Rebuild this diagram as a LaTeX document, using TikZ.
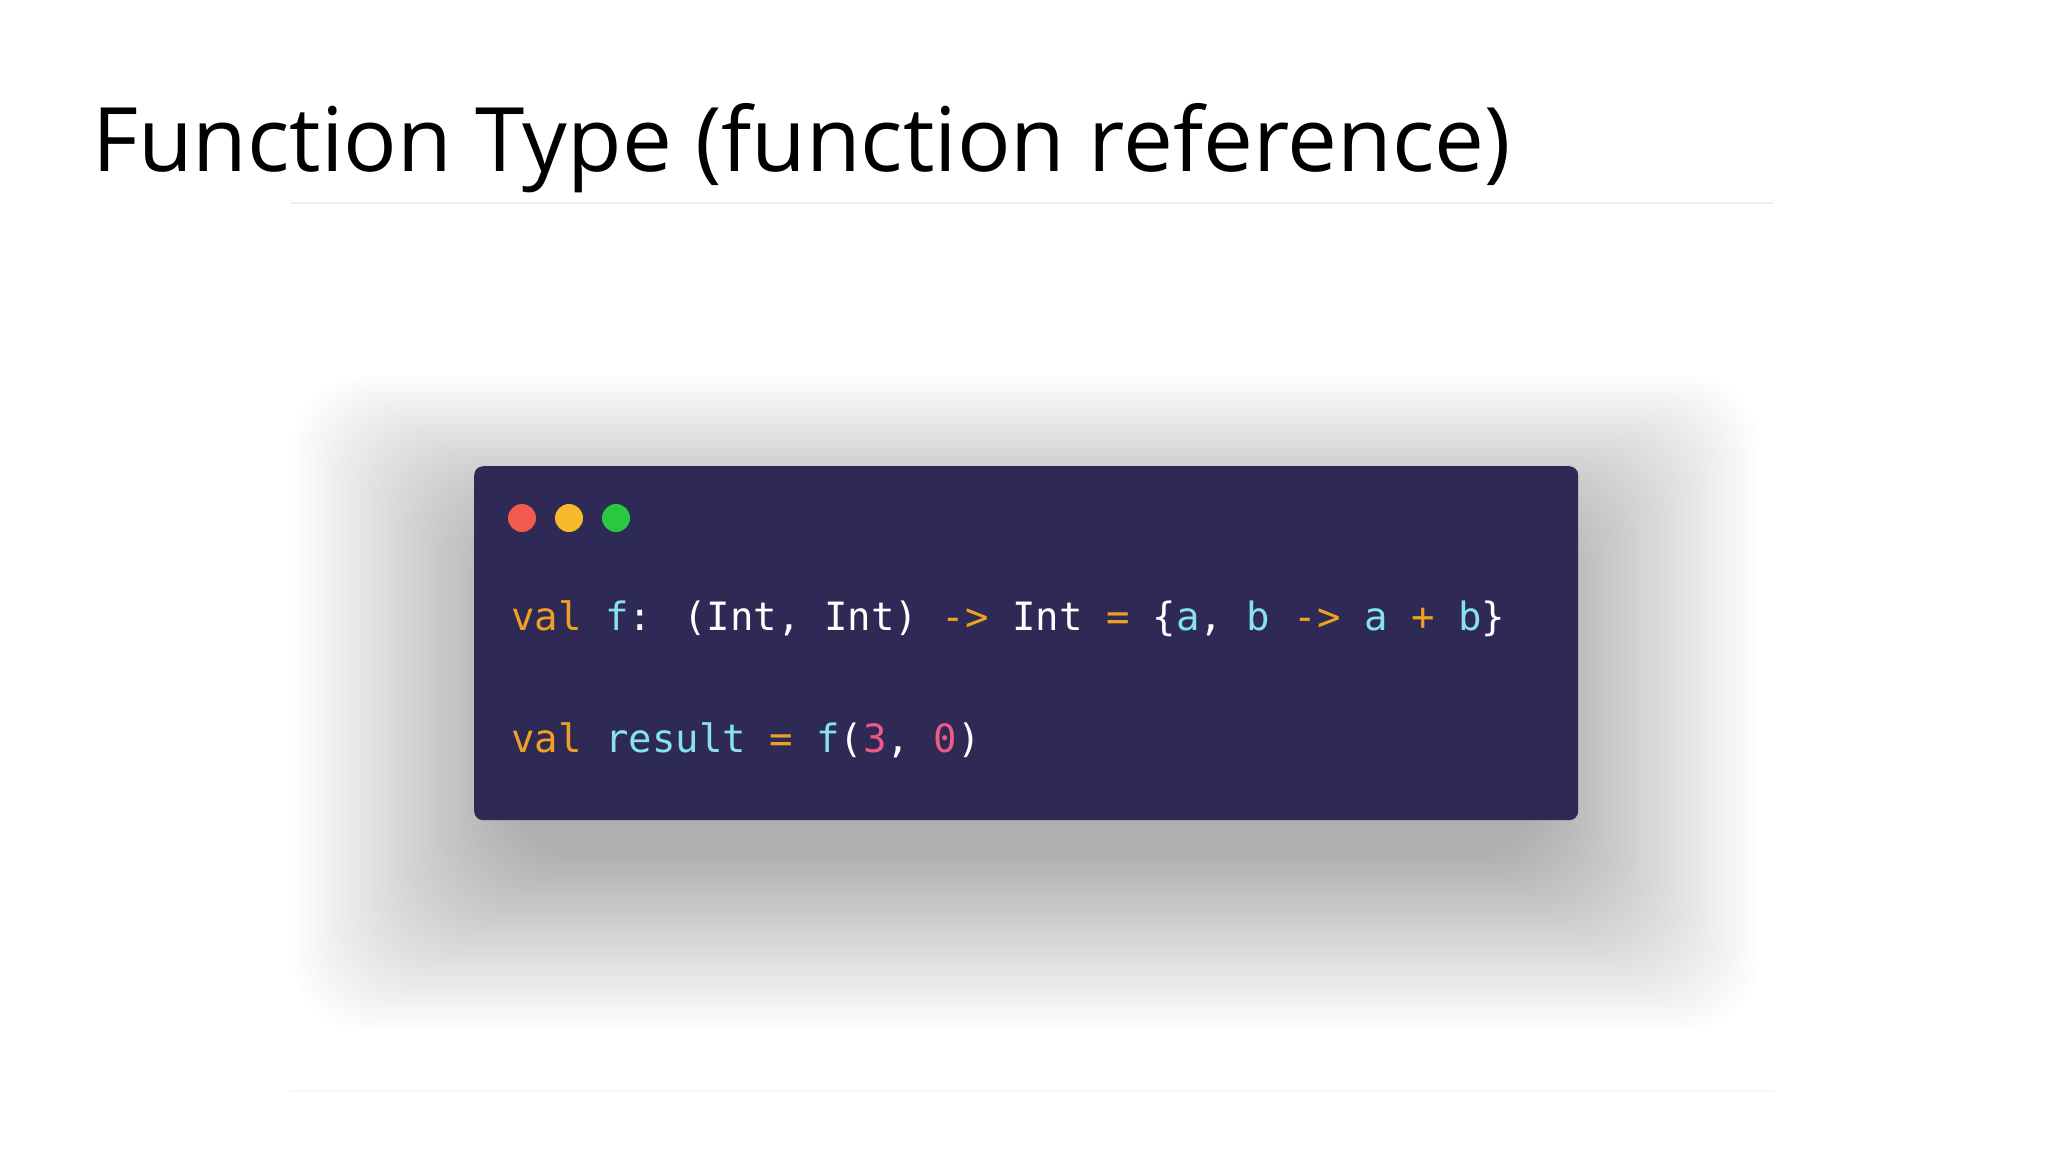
\documentclass[tikz,border=0pt]{standalone}
\usepackage{fontspec}
\setmainfont{Open Sans}
\newfontfamily\codefont{DejaVu Sans Mono}
\definecolor{codebg}{HTML}{2E2A55}
\definecolor{kw}{HTML}{F0A024}
\definecolor{idc}{HTML}{86E1F2}
\definecolor{num}{HTML}{EE5A86}
\definecolor{rule}{HTML}{F0F0F0}
\tikzset{codeline/.style={anchor=base west,inner sep=0pt,text=white,font=\codefont\fontsize{39}{40}\selectfont},
dot/.style={circle,minimum size=28pt,inner sep=0pt}}
\begin{document}
\begin{tikzpicture}[x=1pt,y=-1pt]
\useasboundingbox[fill=white] (0,0) rectangle (2048,1152);
\node[anchor=base west,inner sep=0pt,font=\fontsize{89}{90}\selectfont] (title) at (92,171) {Function Type (function reference)};
\draw[rule,line width=1.5pt] (290,203) -- (1774,203);
\draw[rule!60,line width=1.5pt] (290,1091) -- (1774,1091);
\foreach \i in {1,...,40}{
  \fill[black,opacity=0.006,rounded corners=70pt] ({474+40-\i*5.5},{466+70-\i*4}) rectangle ({1578-40+\i*5.5},{820+30+\i*4.5});
}
\node[fill=codebg,rounded corners=9pt,minimum width=1104pt,minimum height=354pt,anchor=north west,inner sep=0pt] (box) at (474,466) {};
\node[dot,fill={rgb,255:red,242;green,90;blue,80}] (r) at (522,518) {};
\node[dot,fill={rgb,255:red,247;green,186;blue,45}] (y) at (569,518) {};
\node[dot,fill={rgb,255:red,40;green,200;blue,64}] (g) at (616,518) {};
\node[codeline] (l1) at (511,630) {\textcolor{kw}{val} \textcolor{idc}{f}: (Int, Int) \textcolor{kw}{->} Int \textcolor{kw}{=} \{\textcolor{idc}{a}, \textcolor{idc}{b} \textcolor{kw}{->} \textcolor{idc}{a} \textcolor{kw}{+} \textcolor{idc}{b}\}};
\node[codeline] (l2) at (511,752) {\textcolor{kw}{val} \textcolor{idc}{result} \textcolor{kw}{=} \textcolor{idc}{f}(\textcolor{num}{3}, \textcolor{num}{0})};
\end{tikzpicture}
\end{document}
